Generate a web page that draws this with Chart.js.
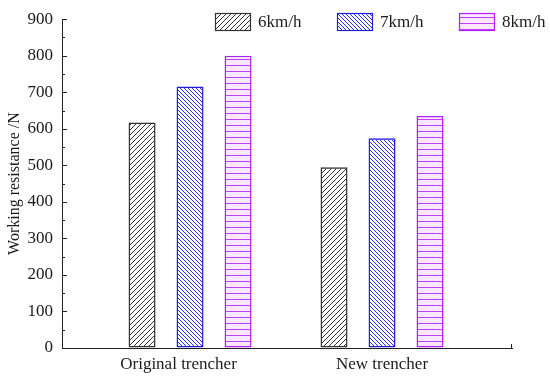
<!DOCTYPE html>
<html>
<head>
<meta charset="utf-8">
<script src="https://cdn.jsdelivr.net/npm/chart.js@4/dist/chart.umd.min.js"></script>
<style>
  html, body { margin:0; padding:0; background:#fff; }
  #wrap { width:550px; height:379px; position:relative; }
</style>
</head>
<body>
<div id="wrap"><canvas id="grafica"></canvas></div>
<script>
// datos
const categorias = ['Original trencher', 'New trencher'];
const posEtiquetas = [-0.06, 1];   // donde va cada rótulo del eje x
const velocidades = ['6km/h', '7km/h', '8km/h'];
const v6 = [617, 495];
const v7 = [716, 574];
const v8 = [800, 635];
const yTicks = [0, 100, 200, 300, 400, 500, 600, 700, 800, 900];

const FUENTE = "'Liberation Serif', 'Times New Roman', serif";

// patrones de relleno
function patron(tipo, color, paso, fondo) {
  const c = document.createElement('canvas');
  c.width = paso; c.height = paso;
  const g = c.getContext('2d');
  if (fondo) { g.fillStyle = fondo; g.fillRect(0, 0, paso, paso); }
  g.strokeStyle = color;
  g.lineWidth = 1;
  g.beginPath();
  if (tipo === '/') {
    g.moveTo(0, paso); g.lineTo(paso, 0);
    g.moveTo(-1, 1); g.lineTo(1, -1);
    g.moveTo(paso - 1, paso + 1); g.lineTo(paso + 1, paso - 1);
  } else if (tipo === '\\') {
    g.moveTo(0, 0); g.lineTo(paso, paso);
    g.moveTo(paso - 1, -1); g.lineTo(paso + 1, 1);
    g.moveTo(-1, paso - 1); g.lineTo(1, paso + 1);
  } else {
    g.moveTo(0, paso - 0.5); g.lineTo(paso, paso - 0.5);
  }
  g.stroke();
  return g.createPattern(c, 'repeat');
}

const estilos = [
  { fill: patron('/', '#333', 5), borde: '#333' },
  { fill: patron('\\', '#3030f0', 4), borde: '#2020e0' },
  { fill: patron('-', '#c040ff', 6, '#fde6ff'), borde: '#b020ff' }
];

const series = [v6, v7, v8];
const datasets = series.map((vals, i) => ({
  label: velocidades[i],
  data: vals.map((v, j) => ({ x: j, y: v })),
  backgroundColor: estilos[i].fill,
  borderColor: estilos[i].borde,
  borderWidth: 1.5,
  borderSkipped: false,
  categoryPercentage: 0.75,
  barPercentage: 0.5625
}));

// ticks hacia dentro y leyenda
const extras = {
  id: 'extras',
  afterDraw(chart) {
    const ctx = chart.ctx;
    const y = chart.scales.y;
    const left = chart.chartArea.left, bottom = chart.chartArea.bottom;
    ctx.save();
    ctx.strokeStyle = '#222';
    ctx.lineWidth = 1;
    ctx.beginPath();
    for (let v = 0; v <= 900; v += 50) {
      const py = Math.round(y.getPixelForValue(v)) + 0.5;
      const len = v % 100 === 0 ? 5 : 3;
      ctx.moveTo(left, py); ctx.lineTo(left + len, py);
    }
    const rx = Math.round(chart.chartArea.right) - 0.5;
    ctx.moveTo(rx, bottom); ctx.lineTo(rx, bottom - 4);
    ctx.stroke();

    // leyenda
    let lx = 215;
    const ly = 13;
    ctx.font = '17px ' + FUENTE;
    ctx.textBaseline = 'middle';
    chart.data.datasets.forEach(ds => {
      ctx.fillStyle = ds.backgroundColor;
      ctx.fillRect(lx, ly, 36, 18);
      ctx.strokeStyle = ds.borderColor;
      ctx.lineWidth = 1.2;
      ctx.strokeRect(lx + 0.5, ly + 0.5, 35, 17);
      ctx.fillStyle = '#1a1a1a';
      ctx.fillText(ds.label, lx + 43, ly + 9.5);
      lx += 122;
    });
    ctx.restore();
  }
};

new Chart(document.getElementById('grafica').getContext('2d'), {
  type: 'bar',
  data: { datasets },
  options: {
    responsive: true,
    maintainAspectRatio: false,
    animation: false,
    layout: { padding: { top: 14, right: 38, left: 0, bottom: 0 } },
    plugins: { legend: { display: false }, tooltip: { enabled: false } },
    scales: {
      x: {
        type: 'linear',
        offset: false,
        min: -0.667,
        max: 1.677,
        grid: { display: true, color: 'rgba(0,0,0,0)', drawTicks: false },
        border: { display: true, color: '#222', width: 1 },
        afterBuildTicks: s => { s.ticks = posEtiquetas.map(p => ({ value: p })); },
        afterFit: s => { s.height = 31; },
        ticks: {
          padding: 6,
          color: '#1a1a1a',
          font: { family: FUENTE, size: 17 },
          callback: (v, i) => categorias[i]
        }
      },
      y: {
        min: 0,
        max: 900,
        grid: { display: true, color: 'rgba(0,0,0,0)', drawTicks: false },
        border: { display: true, color: '#222', width: 1 },
        afterBuildTicks: s => { s.ticks = yTicks.map(v => ({ value: v })); },
        afterFit: s => { s.width = 62; },
        title: {
          display: true,
          text: 'Working resistance /N',
          color: '#1a1a1a',
          font: { family: FUENTE, size: 16 },
          padding: { top: 5, bottom: 0 }
        },
        ticks: {
          padding: 9,
          color: '#1a1a1a',
          font: { family: FUENTE, size: 17 }
        }
      }
    }
  },
  plugins: [extras]
});
</script>
</body>
</html>
